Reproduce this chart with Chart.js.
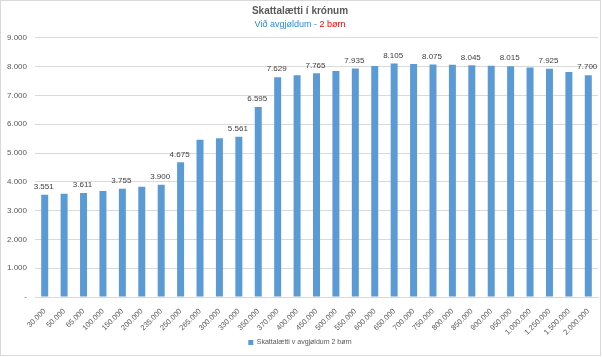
<!DOCTYPE html>
<html><head><meta charset="utf-8">
<script src="https://cdn.jsdelivr.net/npm/chart.js@4/dist/chart.umd.min.js"></script>
<style>html,body{margin:0;padding:0;background:#fff;}#wrap{width:602px;height:357px;position:relative;}</style>
</head><body><div id="wrap"><canvas id="c" width="602" height="357"></canvas></div>
<script>
const categories = ['30.000','50.000','65.000','100.000','150.000','200.000','235.000','250.000','265.000','300.000','330.000','350.000','370.000','400.000','450.000','500.000','550.000','600.000','650.000','700.000','750.000','800.000','850.000','900.000','950.000','1.000.000','1.250.000','1.500.000','2.000.000'];
const values = [3551,3581,3611,3683,3755,3827,3900,4675,5460,5510,5561,6595,7629,7697,7765,7850,7935,8020,8105,8090,8075,8060,8045,8030,8015,7970,7925,7812,7700];
const labelledIndices = [0,2,4,6,7,10,11,12,14,16,18,20,22,24,26,28];
const yTicks = [0,1000,2000,3000,4000,5000,6000,7000,8000,9000];
const titleText = 'Skattalætti í krónum';
const subtitleBlue = 'Við avgjøldum - ';
const subtitleRed = '2 børn';
const seriesName = 'Skattalætti v avgjøldum 2 børn';

const FONT = "'Liberation Sans', Arial, sans-serif";
function fmt(n){ return n === 0 ? '-' : String(n).replace(/\B(?=(\d{3})+(?!\d))/g, '.'); }

const bgPlugin = {
  id: 'bg',
  beforeDraw(chart){
    const ctx = chart.ctx;
    ctx.save();
    ctx.fillStyle = '#fff';
    ctx.fillRect(0,0,chart.width,chart.height);
    ctx.strokeStyle = '#d9d9d9';
    ctx.lineWidth = 1;
    ctx.strokeRect(0.5,0.5,chart.width-2,chart.height-2);
    ctx.restore();
  }
};

const subtitlePlugin = {
  id: 'twoColorSubtitle',
  afterDraw(chart){
    const box = chart.boxes.find(b => b.options && b.options.text === subtitleBlue + subtitleRed && b !== chart.titleBlock);
    if(!box) return;
    const ctx = chart.ctx;
    ctx.save();
    ctx.font = '9px ' + FONT;
    ctx.textBaseline = 'middle';
    ctx.textAlign = 'left';
    const w1 = ctx.measureText(subtitleBlue).width;
    const w2 = ctx.measureText(subtitleRed).width;
    const x0 = (box.left + box.right)/2 - (w1+w2)/2;
    const y = box.top + 2 + 5.4;
    ctx.fillStyle = '#2e8ad8';
    ctx.fillText(subtitleBlue, x0, y);
    ctx.fillStyle = '#ff0000';
    ctx.fillText(subtitleRed, x0 + w1, y);
    ctx.restore();
  }
};

const dataLabelPlugin = {
  id: 'dataLabels',
  afterDatasetsDraw(chart){
    const meta = chart.getDatasetMeta(0);
    const ctx = chart.ctx;
    ctx.save();
    ctx.font = '8px ' + FONT;
    ctx.fillStyle = '#404040';
    ctx.textAlign = 'center';
    ctx.textBaseline = 'bottom';
    labelledIndices.forEach(i => {
      const el = meta.data[i];
      ctx.fillText(fmt(values[i]), el.x - 1, el.y - 4);
    });
    ctx.restore();
  }
};

new Chart(document.getElementById('c'), {
  type: 'bar',
  data: {
    labels: categories,
    datasets: [{
      label: seriesName,
      data: values,
      backgroundColor: '#5b9bd5',
      borderWidth: 0,
      barPercentage: 0.72,
      categoryPercentage: 0.5
    }]
  },
  options: {
    responsive: false,
    animation: false,
    devicePixelRatio: 1,
    layout: { padding: { left: 2, right: 4, top: 0, bottom: 1 } },
    plugins: {
      title: { display: true, text: titleText, color: '#595959', font: { family: FONT, size: 10, weight: 'bold' }, padding: { top: 5, bottom: 0 } },
      subtitle: { display: true, text: subtitleBlue + subtitleRed, color: 'rgba(0,0,0,0)', font: { family: FONT, size: 9 }, padding: { top: 2, bottom: 8 } },
      legend: { position: 'bottom', labels: { boxWidth: 5, boxHeight: 5, color: '#595959', font: { family: FONT, size: 7 }, padding: 2 } },
      tooltip: { enabled: false }
    },
    scales: {
      x: {
        grid: { display: false },
        border: { display: true, color: '#d9d9d9' },
        ticks: { color: '#595959', font: { family: FONT, size: 7.5 }, maxRotation: 45, minRotation: 45, autoSkip: false, padding: 2 },
        afterFit(s){ s.height = 40; }
      },
      y: {
        min: 0, max: 9000,
        afterBuildTicks(s){ s.ticks = yTicks.map(v => ({ value: v })); },
        grid: { color: '#d9d9d9', drawTicks: false },
        border: { display: false },
        ticks: { color: '#595959', font: { family: FONT, size: 8 }, padding: 8, callback: v => fmt(v) },
        afterFit(s){ s.width = 33; }
      }
    }
  },
  plugins: [bgPlugin, subtitlePlugin, dataLabelPlugin]
});
</script>
</body></html>
